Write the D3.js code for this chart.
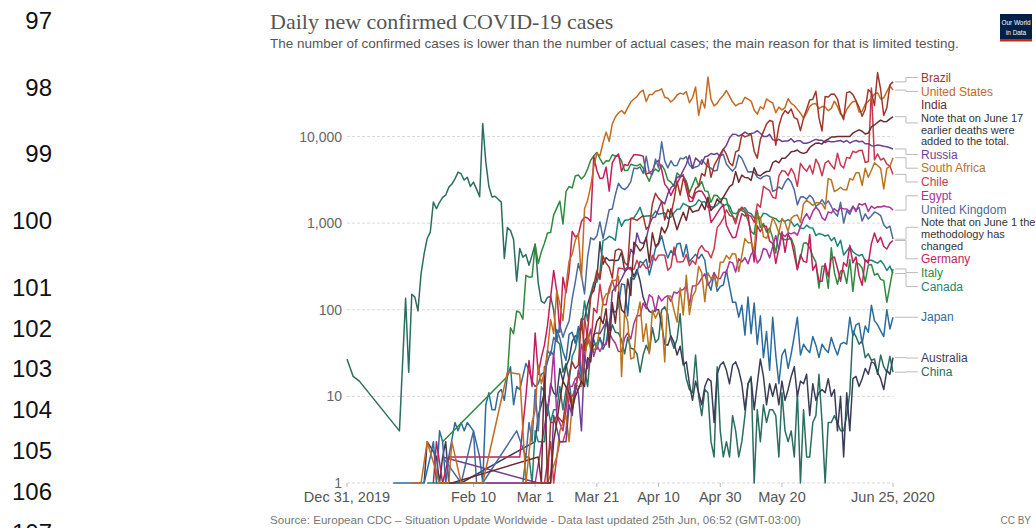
<!DOCTYPE html>
<html>
<head>
<meta charset="utf-8">
<script src="https://cdn.jsdelivr.net/npm/d3@7"></script>
<style>
  body { margin: 0; background: #fff; }
  svg { display: block; }
</style>
</head>
<body>
<svg id="chart" width="1036" height="528"></svg>
<script>
// ---- Data: daily new confirmed cases (first date of each series, then one value per day; 0 = none reported)
const countries = ["Brazil", "United States", "India", "Russia", "South Africa", "Chile", "Egypt",
  "United Kingdom", "Germany", "Italy", "Canada", "Japan", "Australia", "China"];
const seriesColors = ["#a2352a", "#c46a22", "#6b2a2e", "#6d3e91", "#b9741f", "#c8384f", "#a8339a",
  "#4c6a9c", "#c21e5b", "#2f8a3d", "#1c8478", "#2b6c9e", "#3a3d56", "#2a6e60"];
const firstDates = ["2020-02-26", "2020-01-21", "2020-01-30", "2020-01-31", "2020-03-05", "2020-03-04", "2020-02-14",
  "2020-01-31", "2020-01-28", "2020-01-31", "2020-01-26", "2020-01-15", "2020-01-25", "2019-12-31"];
const countryNotes = {
  "India": ["Note that on June 17", "earlier deaths were", "added to the total."],
  "United Kingdom": ["Note that on June 1 the", "methodology has", "changed"]
};

const brazil = [1,0,0,1,
  0,1,0,0,1,5,5,6,0,5,9,18,25,21,23,79,34,57,137,193,283,224,418,345,310,232,482,502,487,352,323,
  1138,1119,1074,1146,1222,852,926,1661,2210,1930,1781,1089,1442,1261,1832,3058,2105,3257,2917,2055,1927,2498,2678,3735,3503,5514,3379,4613,5385,6276,
  7218,6209,4970,4588,6633,6935,10503,9888,10222,10611,6760,5632,9258,11385,13944,15305,14919,7938,13140,17408,19951,18508,20803,16508,15813,11687,16324,20599,26417,26928,33274,
  16409,11598,28936,28633,30925,30830,27075,18912,15654,32091,32913,30412,25982,21704,17110,20647,34918,32188,22765,54771,34666,17459,21432,39436,42725];

const unitedStates = [1,0,0,1,0,3,0,0,0,1,1,
  1,1,3,0,0,1,0,0,0,0,1,0,1,0,0,0,0,0,0,0,19,0,0,0,18,0,1,0,5,
  7,23,14,19,33,77,53,166,116,75,188,365,439,633,759,234,1467,1833,2657,4494,6367,5995,8459,11236,8789,13963,16797,18695,19979,18360,21595,
  24998,27103,28819,32425,34272,25398,30561,30613,33323,33901,35527,28391,27620,25023,26922,30148,31667,30833,32922,24601,28065,37289,17588,26543,21352,48529,26857,22541,24132,27326,
  29917,33955,29288,24972,22593,23841,24128,28369,26957,25612,20258,18117,22048,20782,27143,25508,24487,18873,21841,20289,21551,27246,24146,22790,20579,18591,16324,18637,22245,23729,24011,
  20920,22153,21882,19890,21140,25578,22302,18109,16946,20486,23095,25396,25557,19223,19543,23507,25559,27762,30859,31988,27143,27928,33021,38671,34313];

const india = [1,0,
  0,1,1,0,0,0,0,0,0,0,0,0,0,0,0,0,0,0,0,0,0,0,0,0,0,0,0,0,0,
  0,2,1,22,1,1,3,5,9,15,0,11,7,10,12,15,13,28,25,50,73,83,69,103,37,121,70,160,100,92,227,
  146,601,545,478,525,693,354,773,540,591,896,768,918,1463,1118,839,1071,1334,1076,1553,1336,1383,1409,1684,1429,1990,1396,1543,1897,1718,
  1993,2293,2644,2806,3932,2963,3587,3364,3344,3113,4353,3607,3524,3763,3942,3970,4987,5242,4970,5611,5609,6088,6654,6767,6977,6535,6387,6566,7466,7964,8380,
  8392,8171,8909,9304,9851,9887,9971,9983,9987,9985,9996,10956,11458,11929,11502,10667,10974,12881,13586,14516,15413,14821,14933,15968,16922];

const russia = [2,0,0,0,0,0,0,0,0,0,
  0,0,0,0,0,0,0,0,0,0,
  0,0,0,0,0,0,0,0,0,0,
  0,1,0,0,0,1,6,0,3,0,
  3,8,6,14,11,4,30,21,33,52,
  54,53,62,71,57,163,182,196,228,270,302,
  500,440,771,601,582,658,954,1154,1175,1459,1786,1667,2186,2558,2774,3388,3448,4070,4785,6060,4268,5642,5236,4774,5849,5966,6361,6198,6411,5841,
  7099,7933,9623,10633,10581,10102,10559,11231,10699,10817,11012,11656,10899,10028,9974,10598,9200,8926,9263,8764,8849,8894,9434,8599,8946,8915,8338,8371,8572,8952,9268,
  9035,9035,8536,8831,8705,8726,8855,8984,8595,8985,8404,8779,8987,8706,8835,8248,8246,7843,7790,7972,7889,7728,7600,7425,7176];

const southAfrica = [1,0,0,2,4,0,6,3,8,14,13,13,23,54,34,34,38,64,128,152,155,218,218,243,17,93,73,
  27,28,82,123,43,69,31,99,80,96,87,25,145,143,99,72,178,87,251,88,143,165,318,267,124,267,228,247,186,354,
  354,424,385,447,437,276,424,663,595,595,487,1240,1160,698,665,817,1160,976,767,1134,1016,803,1134,1218,1240,1016,1673,1837,1727,1605,1716,
  1716,1674,1455,3267,3147,2312,2420,2594,2430,2430,3267,3147,3809,3809,2737,4302,3388,4078,4966,4621,4288,2489,4288,4518,5688];

const chile = [1,0,3,1,2,3,3,4,10,10,12,18,14,81,45,37,104,92,197,114,114,176,220,164,304,299,293,310,
  289,293,373,307,344,301,310,426,369,426,430,426,286,312,529,357,355,361,434,323,369,335,494,552,482,467,398,505,888,985,
  1138,1427,1228,1195,980,1373,1533,1391,1247,1197,1023,1658,1525,2660,2502,2365,1992,1930,3520,4038,3964,3536,4276,3709,2660,4895,4328,3964,4654,3695,5471,
  4697,3527,4942,5246,4664,4207,6405,4696,4342,5737,5596,6754,6509,6913,6938,5013,5143,36179,5355,6290,5355,5607,4804,4557,3649];

const egypt = [1,
  0,0,0,0,0,0,0,0,0,0,0,0,0,0,0,
  1,0,0,0,0,12,33,6,0,4,7,13,13,16,17,40,30,0,60,29,39,33,39,40,54,46,41,33,33,47,54,
  46,69,86,85,120,103,149,139,95,145,126,139,145,125,160,155,168,171,189,112,188,189,201,232,260,191,217,269,231,228,
  269,272,358,348,272,388,356,399,339,436,488,347,385,510,492,398,535,720,491,745,702,774,752,783,727,910,1127,1289,1107,1362,1536,
  1399,1152,1079,1348,1311,1467,1365,1497,1467,1455,1348,1577,1359,1677,1618,1691,1363,1567,1475,1547,1532,1575,1542,1523,1412];

const unitedKingdom = [2,0,0,0,0,0,1,0,0,0,
  4,1,0,1,0,0,0,0,0,0,
  0,0,0,0,4,0,0,2,5,3,
  12,4,13,11,34,30,48,43,67,48,
  61,74,134,208,342,251,152,407,676,643,
  714,1035,665,967,1427,1452,2129,2885,2546,2433,
  2619,3009,4324,4244,4450,3735,5903,3802,3634,5491,
  4344,8681,5233,4342,5252,4603,4617,5599,5525,5850,
  4676,4301,4451,4583,5386,4913,4463,4309,3996,4076,
  6032,6201,4806,4339,3985,4406,6111,5614,4649,3896,
  3923,3877,3403,3242,3446,3560,3451,2334,2412,2615,
  2472,2959,3289,2959,2409,1625,2004,2013,1887,2095,
  1936,1570,1653,1871,1650,1805,1557,1326,1205,1741,
  1003,1387,1266,1541,1425,1514,1056,1279,1115,1218,
  1346,1295,1221,958,874,921,653];

const germany = [1,3,0,1,0,2,0,0,0,0,
  0,0,0,0,2,0,0,0,0,0,
  0,0,0,0,0,0,0,0,2,0,
  10,26,13,
  54,18,28,39,66,138,284,163,55,237,
  157,271,802,693,733,1043,1174,1144,1042,5940,
  4049,3276,3311,4438,2342,4954,5780,6294,3965,4751,
  4615,5453,6156,6174,6082,5936,3677,3834,4003,4974,
  5323,4133,2821,2537,2082,2486,2866,3380,3609,2458,
  1775,1785,2237,2352,2337,2055,1737,1018,1144,1304,
  1478,1639,945,793,679,685,947,1284,1209,1251,
  667,357,933,798,933,913,620,583,342,513,
  797,460,745,638,431,289,432,362,353,741,
  286,333,213,213,342,242,394,406,301,214,
  350,318,555,348,407,247,192,378,345,580,
  770,601,687,537,503,587,630];

const italy = [3,
  0,0,0,0,0,0,0,0,0,0,0,0,0,0,0,0,0,0,0,0,
  17,62,53,97,93,78,250,238,240,
  566,342,466,587,769,778,1247,1492,1797,977,
  2313,2651,2547,3497,3590,3233,3526,4207,5322,5986,
  6557,5560,4789,5249,5210,6153,5959,5974,5217,4050,
  4053,4782,4668,4585,4805,4316,3599,3039,3836,4204,
  3951,4694,4092,3153,2972,2667,3786,3493,3491,3047,
  2256,2729,3370,2646,3021,2357,2324,1739,2091,2086,
  1872,1965,1900,1389,1221,1075,1444,1401,1327,1083,
  802,744,1402,888,992,789,875,675,451,813,
  665,642,652,669,531,300,397,584,593,516,
  416,355,178,318,321,177,518,270,197,280,
  283,202,379,163,346,338,303,210,329,333,
  251,262,224,218,122,190,296];

const canada = [1,0,1,0,0,0,
  1,0,0,0,0,1,0,0,0,0,0,0,0,0,0,0,0,0,0,0,1,0,0,0,1,1,2,2,1,
  4,3,3,3,8,5,7,7,13,7,12,15,29,35,53,60,126,74,153,206,209,270,627,653,705,675,633,1159,920,1078,1084,
  1129,1153,1305,1521,1186,1210,1217,1208,1376,1269,1288,1316,1134,1172,1313,1445,1460,1694,1614,1537,1568,1634,1860,1743,1774,1519,1542,1525,1627,1784,
  1577,1653,1587,1311,1287,1347,1446,1507,1330,1285,1149,1153,1123,1302,1279,1196,1155,1127,1035,1083,1049,1096,1040,919,983,880,864,948,886,876,717,
  759,742,710,730,626,683,540,634,428,477,531,467,438,420,434,364,374,373,358,345,370,333,284,319,262];

const japan = [1,0,0,0,0,0,0,0,0,0,
  1,0,2,3,1,4,3,1,2,0,
  5,4,5,4,5,0,4,0,2,1,
  8,11,7,7,11,12,9,17,22,8,
  13,12,17,24,20,15,13,14,18,19,
  25,33,30,59,47,33,26,52,55,41,
  64,15,44,49,40,45,35,48,35,42,
  71,98,94,109,199,194,85,235,224,268,
  362,345,383,252,351,515,571,714,507,395,
  484,427,574,587,407,568,358,397,436,390,
  438,373,203,168,264,163,186,193,285,185,
  122,122,82,113,51,140,53,120,40,85,
  28,56,20,82,30,14,30,35,21,31,
  50,82,30,40,35,32,49,39,28,40,
  35,32,48,37,30,40,42,40,82,50,
  67,70,41,65,55,113,75,67,57,49,
  100,60,82];

const australia = [1,3,0,0,2,1,2,3,1,0,
  0,1,1,0,0,0,0,0,0,0,
  0,0,0,0,0,0,0,2,0,0,
  0,0,0,0,0,0,3,6,8,11,
  6,14,11,10,21,15,22,27,43,50,
  49,77,78,116,150,165,234,611,336,401,
  371,376,367,375,464,281,296,308,241,292,
  216,139,111,96,92,100,100,67,40,39,
  50,42,30,38,23,25,14,9,15,11,
  8,13,16,15,5,18,23,25,20,14,
  23,25,20,14,7,14,16,7,14,27,
  17,8,14,10,14,8,15,9,12,17,
  22,10,15,14,18,6,14,9,11,12,
  11,16,10,12,4,10,2,11,4,16,
  17,13,16,21,18,25,24,19,16,12,
  20,18,28];

const china = [27,0,17,0,15,
  0,0,0,0,0,0,0,0,0,0,0,0,
  4,0,
  136,19,151,140,97,259,441,665,787,1753,1466,
  1740,1980,2102,2590,2829,3235,3884,3694,3143,3385,
  2652,2973,2467,2015,14108,5090,2641,2008,2048,1886,
  1749,391,889,823,648,214,508,406,433,327,
  427,573,202,125,119,139,143,99,44,40,
  19,24,15,8,11,20,16,21,13,34,
  39,41,46,39,78,47,67,55,54,45,
  31,48,36,35,31,19,30,39,32,62,
  42,46,99,108,89,46,36,46,90,27,
  16,12,11,30,10,6,12,11,3,2,
  22,4,2,3,2,6,4,2,3,6,
  14,17,1,7,3,8,5,7,7,6,
  2,11,4,3,4,2,11,1,7,2,
  2,5,6,18,5,1,5,5,6,5,
  4,4,6,11,57,49,40,44,28,31,
  26,27,18,30,22,19,29,19];

const seriesValues = [brazil, unitedStates, india, russia, southAfrica, chile, egypt,
  unitedKingdom, germany, italy, canada, japan, australia, china];

// Axis ticks
const yTickValues = [1, 10, 100, 1000, 10000];
const xTickDates = ["2019-12-31", "2020-02-10", "2020-03-01", "2020-03-21", "2020-04-10", "2020-04-30", "2020-05-20", "2020-06-25"];
const xTickLabels = ["Dec 31, 2019", "Feb 10", "Mar 1", "Mar 21", "Apr 10", "Apr 30", "May 20", "Jun 25, 2020"];

// Margin line numbers of the surrounding document
const lineNumbers = ["97", "98", "99", "100", "101", "102", "103", "104", "105", "106", "107"];
const lineNumberY = [29, 96, 162, 229, 296, 337, 377, 418, 459, 500, 541];

// ---- Drawing
const svg = d3.select("#chart");
const parse = d3.utcParse("%Y-%m-%d");
const plot = { left: 347, right: 893, top: 136.5, bottom: 483 };
const sans = "Liberation Sans, Arial, sans-serif";

const x = d3.scaleUtc()
  .domain([parse("2019-12-31"), parse("2020-06-25")])
  .range([plot.left, plot.right]);
const y = d3.scaleLog()
  .domain([1, 10000])
  .range([plot.bottom, plot.top]);

// margin line numbers
svg.append("g").selectAll("text").data(lineNumbers).join("text")
  .attr("x", 52).attr("y", (d, i) => lineNumberY[i])
  .attr("text-anchor", "end")
  .attr("font-family", sans)
  .attr("font-size", 24).attr("fill", "#111")
  .text(d => d);

// title block
svg.append("text").attr("x", 270).attr("y", 29)
  .attr("font-family", "Liberation Serif, Times New Roman, serif")
  .attr("font-size", 22).attr("fill", "#555")
  .text("Daily new confirmed COVID-19 cases");
svg.append("text").attr("x", 270).attr("y", 48)
  .attr("font-family", sans)
  .attr("font-size", 13.5).attr("fill", "#555")
  .text("The number of confirmed cases is lower than the number of actual cases; the main reason for that is limited testing.");

// logo
const logo = svg.append("g").attr("transform", "translate(1000,14)");
logo.append("rect").attr("width", 32).attr("height", 27).attr("fill", "#002147");
logo.append("rect").attr("y", 25).attr("width", 32).attr("height", 2.5).attr("fill", "#ce261e");
const logoText = logo.append("g").attr("transform", "translate(16,0) scale(0.8,1)");
logoText.append("text").attr("x", 0).attr("y", 11).attr("text-anchor", "middle")
  .attr("font-family", sans).attr("font-size", 8).attr("fill", "#fff")
  .text("Our World");
logoText.append("text").attr("x", 0).attr("y", 21).attr("text-anchor", "middle")
  .attr("font-family", sans).attr("font-size", 8).attr("fill", "#fff")
  .text("in Data");

// grid + y labels
const grid = svg.append("g");
grid.selectAll("line").data(yTickValues).join("line")
  .attr("x1", plot.left).attr("x2", plot.right)
  .attr("y1", d => y(d)).attr("y2", d => y(d))
  .attr("stroke", "#d9d9d9").attr("stroke-dasharray", "3,2");
grid.selectAll("text").data(yTickValues).join("text")
  .attr("x", plot.left - 5).attr("y", d => y(d) + 5)
  .attr("text-anchor", "end")
  .attr("font-family", sans)
  .attr("font-size", 14).attr("fill", "#666")
  .text(d => d3.format(",")(d));

// x axis ticks + labels
const xa = svg.append("g");
xa.selectAll("line").data(xTickDates).join("line")
  .attr("x1", d => x(parse(d))).attr("x2", d => x(parse(d)))
  .attr("y1", plot.bottom).attr("y2", plot.bottom + 4)
  .attr("stroke", "#bbb");
xa.selectAll("text").data(xTickDates).join("text")
  .attr("x", d => x(parse(d))).attr("y", 502)
  .attr("text-anchor", "middle")
  .attr("font-family", sans)
  .attr("font-size", 14.5).attr("fill", "#555")
  .text((d, i) => xTickLabels[i]);

// series lines
const series = countries.map((name, i) => {
  const start = parse(firstDates[i]);
  const pts = seriesValues[i]
    .map((v, k) => ({ date: d3.utcDay.offset(start, k), value: v }))
    .filter(p => p.value > 0);
  return { name, color: seriesColors[i], pts };
});

const line = d3.line().x(d => x(d.date)).y(d => y(d.value));
svg.append("g").selectAll("path").data(series.slice().reverse()).join("path")
  .attr("d", d => line(d.pts))
  .attr("fill", "none")
  .attr("stroke", d => d.color)
  .attr("stroke-width", 1.5)
  .attr("stroke-linejoin", "round");

// end labels: stacked blocks, nearby blocks grouped and centred on their targets
const nameH = 13.8, noteH = 11.8, minGap = 14;
const labels = series.map(s => {
  const last = s.pts[s.pts.length - 1];
  const notes = countryNotes[s.name] || [];
  return { name: s.name, color: s.color, notes, endX: x(last.date), target: y(last.value),
           h: nameH + noteH * notes.length };
}).sort((a, b) => a.target - b.target);

let clusters = labels.map(l => ({ items: [l] }));
function layout(c) {
  c.h = d3.sum(c.items, d => d.h);
  c.top = d3.mean(c.items, d => d.target) - c.h / 2;
}
clusters.forEach(layout);
let merged = true;
while (merged) {
  merged = false;
  for (let i = 0; i < clusters.length - 1; i++) {
    const a = clusters[i], b = clusters[i + 1];
    if (a.top + a.h + minGap > b.top) {
      a.items = a.items.concat(b.items);
      layout(a);
      clusters.splice(i + 1, 1);
      merged = true;
      break;
    }
  }
}
clusters.forEach(c => {
  let t = c.top;
  c.items.forEach(l => { l.top = t; t += l.h; });
});

const labelX = 921, stepX = 906;
const lg = svg.append("g");
labels.forEach(l => {
  const cy = l.top + l.h / 2;
  lg.append("path")
    .attr("d", `M${l.endX + 2},${l.target}H${stepX}V${cy}H${labelX - 3}`)
    .attr("fill", "none").attr("stroke", "#bbb").attr("stroke-width", 1);
  lg.append("text")
    .attr("x", labelX).attr("y", l.top + nameH / 2).attr("dy", "0.35em")
    .attr("font-family", sans)
    .attr("font-size", 12).attr("fill", l.color)
    .text(l.name);
  l.notes.forEach((n, k) => {
    lg.append("text")
      .attr("x", labelX).attr("y", l.top + nameH + noteH * k + noteH / 2).attr("dy", "0.35em")
      .attr("font-family", sans)
      .attr("font-size", 11).attr("fill", "#333")
      .text(n);
  });
});

// footer
svg.append("text").attr("x", 270).attr("y", 524)
  .attr("font-family", sans)
  .attr("font-size", 11.6).attr("fill", "#777")
  .text("Source: European CDC \u2013 Situation Update Worldwide - Data last updated 25th Jun, 06:52 (GMT-03:00)");
svg.append("text").attr("x", 1031).attr("y", 524).attr("text-anchor", "end")
  .attr("font-family", sans)
  .attr("font-size", 10).attr("fill", "#777")
  .text("CC BY");
</script>
</body>
</html>
